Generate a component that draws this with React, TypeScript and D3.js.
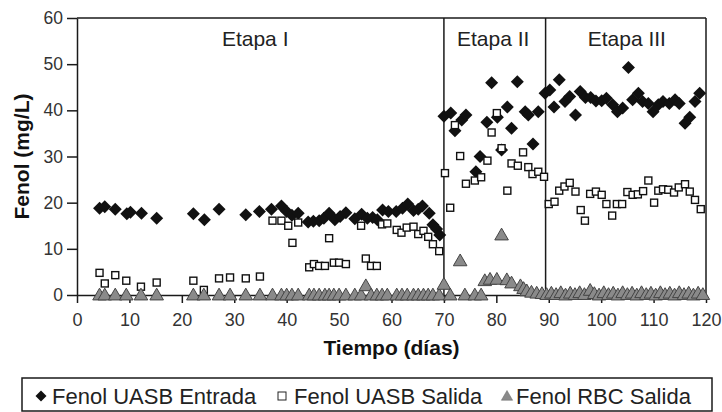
import React, { useEffect, useRef } from "react";
import * as d3 from "d3";

// Fenol UASB Entrada (rombos)
const entradaDia = [4.3, 5.3, 7.3, 9.5, 10.2, 12.3, 15.2, 22.2, 24.3, 27.1, 32.2, 34.8, 37.1, 39, 40, 41, 42.2, 44.1, 45.1, 46.2, 47.1, 48.1, 49.2, 50.2, 51.3, 53, 54.3, 55.4, 56.4, 57.3, 58.3, 59.4, 60.9, 62.1, 63.1, 64.2, 65.1, 65.9, 67.2, 67.9, 68.6, 69.2, 70, 71.3, 72.1, 73.4, 74.2, 76.1, 76.9, 78.2, 79.1, 80.2, 81, 82.1, 82.9, 84, 85.5, 86.1, 87, 88, 89.3, 90.2, 91, 92, 93.1, 94, 95.1, 96, 97, 98, 99, 100.1, 101, 102.2, 103.1, 104.1, 105.2, 106, 107.1, 107.9, 109, 109.9, 110.9, 111.8, 113, 114.1, 114.9, 116, 116.9, 117.9, 118.8];
const entradaVal = [18.8, 19.1, 18.6, 17.6, 17.9, 17.7, 16.6, 17.6, 16.3, 18.6, 17.4, 18.1, 18.6, 19.3, 18.1, 17.3, 17.7, 15.8, 16.0, 16.1, 16.6, 17.7, 16.3, 17.0, 17.8, 16.5, 17.5, 16.6, 16.8, 16.3, 18.4, 18.1, 18.1, 18.8, 19.7, 18.3, 18.6, 19.3, 17.7, 15.2, 14.3, 13.0, 38.7, 39.4, 35.6, 37.9, 39.0, 26.7, 30.0, 37.4, 46.0, 38.5, 31.4, 40.7, 36.1, 46.2, 39.7, 39.0, 32.7, 39.7, 43.7, 44.4, 40.7, 46.6, 41.9, 43.0, 39.0, 44.1, 42.8, 42.8, 42.0, 42.1, 42.6, 41.2, 39.7, 40.5, 49.3, 42.3, 43.7, 41.9, 41.5, 39.7, 41.2, 41.9, 41.5, 42.3, 41.5, 37.2, 38.5, 41.9, 43.7];

// Fenol UASB Salida (cuadrados)
const salidaDia = [4.3, 5.3, 7.3, 9.4, 12.2, 15.2, 22.2, 24.2, 27.1, 29.2, 32.2, 34.9, 37.3, 39, 40.3, 41.1, 42.2, 44.3, 45.2, 46.2, 47.3, 48.1, 49, 50, 51.3, 54.2, 55.1, 56.1, 57.2, 58.2, 59.2, 61, 61.9, 62.9, 64.2, 65.1, 66.1, 67, 67.9, 69.1, 70.2, 71.2, 72.1, 73.1, 74.2, 75.9, 77.1, 78.3, 79.1, 80.1, 81, 82.1, 82.9, 84.1, 85.1, 86.1, 86.9, 88, 89.1, 90, 91.1, 92, 93, 94, 95.1, 96.1, 96.9, 97.9, 99, 100.1, 101, 102.1, 103, 104, 105, 106, 107, 108, 109, 110.1, 110.9, 111.8, 112.8, 113.9, 114.8, 116, 116.9, 117.9, 119];
const salidaVal = [4.8, 2.5, 4.3, 3.1, 1.8, 2.7, 3.1, 1.1, 3.6, 3.8, 3.6, 4.0, 16.1, 16.1, 15.0, 11.3, 15.7, 6.0, 6.7, 6.3, 6.3, 12.3, 7.0, 7.0, 6.7, 15.0, 7.9, 6.3, 6.3, 15.3, 15.5, 14.1, 13.5, 14.6, 14.8, 13.2, 13.9, 12.6, 11.0, 9.5, 26.4, 18.9, 36.8, 30.1, 24.1, 24.8, 25.5, 29.1, 35.2, 39.4, 31.8, 22.6, 28.5, 28.0, 30.9, 27.7, 26.2, 26.7, 25.6, 19.7, 20.2, 22.6, 23.5, 24.3, 22.4, 18.4, 16.1, 21.9, 22.4, 21.7, 19.7, 17.2, 19.7, 19.7, 22.3, 21.7, 21.8, 22.5, 24.8, 20.0, 22.6, 22.9, 22.8, 22.2, 23.3, 24.0, 22.4, 20.6, 18.6];

// Fenol RBC Salida (triangulos)
const rbcDia = [4.3, 5.3, 7.3, 9.4, 12.2, 15.2, 22.2, 24.2, 27.1, 29.2, 32.2, 34.9, 37.3, 39, 40, 41, 42.2, 44.3, 45.2, 46.2, 47.3, 48.1, 49, 50, 51.3, 53, 54.2, 55.1, 56.1, 57.2, 58.2, 59.2, 61, 62, 63, 64.2, 65.1, 66.1, 67, 67.9, 69.1, 70, 71.2, 73.1, 74, 75.9, 77.1, 77.8, 78.8, 80.1, 81, 82, 82.9, 84.6, 85.2, 85.8, 86.7, 87.7, 88.7, 89.6, 90.5, 91.4, 92.3, 93.2, 94.1, 95, 95.9, 96.8, 97.9, 98.7, 99.6, 100.5, 101.4, 102.3, 103.2, 104.1, 105, 105.9, 106.8, 107.7, 108.6, 109.5, 110.4, 111.3, 112.2, 113.1, 114, 114.9, 115.8, 116.7, 117.6, 118.5, 119.4];
const rbcVal = [0, 0, 0, 0, 0, 0, 0, 0, 0, 0, 0, 0, 0, 0, 0, 0, 0, 0, 0, 0, 0, 0, 0, 0, 0, 0, 0, 2.0, 0, 0, 0, 0, 0, 0, 0, 0, 0, 0, 0, 0, 0, 2.3, 0, 7.4, 0, 0, 0, 3.1, 3.4, 3.4, 13.0, 3.3, 2.6, 2.0, 1.4, 0.9, 0.6, 0.4, 0.3, 0.1, 0.4, 0.1, 0.5, 0.0, 0.4, 0.1, 0.5, 0.1, 1.0, 0.3, 0.0, 0.5, 0.1, 0.4, 0.0, 0.5, 0.1, 0.4, 0.0, 0.5, 0.1, 0.4, 0.0, 0.5, 0.1, 0.4, 0.0, 0.5, 0.1, 0.4, 0.0, 0.4, 0.1];

const xTicks = [0, 10, 20, 30, 40, 50, 60, 70, 80, 90, 100, 110, 120];
const yTicks = [0, 10, 20, 30, 40, 50, 60];

const etapas = ["Etapa I", "Etapa II", "Etapa III"];
const etapaCentro = [34, 79.4, 104.9];
const etapaLimites = [70, 89.4];

const leyenda = ["Fenol UASB Entrada", "Fenol UASB Salida", "Fenol RBC Salida"];

const FONT = "'Liberation Sans', Arial, Helvetica, sans-serif";

export default function App() {
  const ref = useRef<SVGSVGElement>(null);

  useEffect(() => {
    const svg = d3.select(ref.current);
    svg.selectAll("*").remove();

    const W = 722, H = 412;
    const margin = { top: 18, right: 16, bottom: 117, left: 77 };

    const x = d3.scaleLinear().domain([0, 120]).range([margin.left, W - margin.right]);
    const y = d3.scaleLinear().domain([0, 60]).range([H - margin.bottom, margin.top]);

    const ink = "#1a1a1a";

    // box top / right
    svg.append("line")
      .attr("x1", x(0)).attr("x2", x(120))
      .attr("y1", y(60)).attr("y2", y(60))
      .attr("stroke", ink).attr("stroke-width", 1.5);
    svg.append("line")
      .attr("x1", x(120)).attr("x2", x(120))
      .attr("y1", y(60)).attr("y2", y(0))
      .attr("stroke", ink).attr("stroke-width", 1.5);

    // stage separators
    svg.selectAll(".etapa-line")
      .data(etapaLimites)
      .enter()
      .append("line")
      .attr("x1", (d) => x(d)).attr("x2", (d) => x(d))
      .attr("y1", y(60)).attr("y2", y(0))
      .attr("stroke", ink).attr("stroke-width", 1.5);

    svg.selectAll(".etapa-txt")
      .data(etapas)
      .enter()
      .append("text")
      .attr("x", (d, i) => x(etapaCentro[i]))
      .attr("y", 46)
      .attr("text-anchor", "middle")
      .attr("font-family", FONT)
      .attr("font-size", 21)
      .attr("fill", "#222")
      .text((d) => d);

    // axes
    const yAxis = svg.append("g")
      .attr("transform", `translate(${x(0)},0)`)
      .call(d3.axisLeft(y).tickValues(yTicks).tickSize(10).tickSizeOuter(0).tickPadding(4));
    const xAxis = svg.append("g")
      .attr("transform", `translate(0,${y(0)})`)
      .call(d3.axisBottom(x).tickValues(xTicks).tickSize(8).tickSizeOuter(0).tickPadding(10));

    [yAxis, xAxis].forEach((g) => {
      g.selectAll("path, line").attr("stroke", ink).attr("stroke-width", 1.5);
      g.selectAll("text").attr("font-family", FONT).attr("fill", "#333");
    });
    yAxis.selectAll("text").attr("font-size", 17.5);
    xAxis.selectAll("text").attr("font-size", 18);

    // axis titles
    svg.append("text")
      .attr("transform", `translate(29,${(y(0) + y(60)) / 2}) rotate(-90)`)
      .attr("text-anchor", "middle")
      .attr("font-family", FONT)
      .attr("font-weight", "bold")
      .attr("font-size", 21)
      .attr("fill", "#111")
      .text("Fenol (mg/L)");
    svg.append("text")
      .attr("x", (x(0) + x(120)) / 2)
      .attr("y", 355)
      .attr("text-anchor", "middle")
      .attr("font-family", FONT)
      .attr("font-weight", "bold")
      .attr("font-size", 21)
      .attr("fill", "#111")
      .text("Tiempo (días)");

    const diamond = (r: number) => `M0,${-r}L${r},0L0,${r}L${-r},0Z`;
    const tri = d3.symbol().type(d3.symbolTriangle).size(80);

    // series
    const entrada = entradaDia.map((d, i) => [d, entradaVal[i]]);
    const salida = salidaDia.map((d, i) => [d, salidaVal[i]]);
    const rbc = rbcDia.map((d, i) => [d, rbcVal[i]]);

    svg.append("g").selectAll("path")
      .data(entrada)
      .enter()
      .append("path")
      .attr("d", diamond(6.5))
      .attr("transform", (d) => `translate(${x(d[0])},${y(d[1])})`)
      .attr("fill", "#111");

    svg.append("g").selectAll("rect")
      .data(salida)
      .enter()
      .append("rect")
      .attr("x", (d) => x(d[0]) - 3.5)
      .attr("y", (d) => y(d[1]) - 3.5)
      .attr("width", 7)
      .attr("height", 7)
      .attr("fill", "#fff")
      .attr("stroke", "#111")
      .attr("stroke-width", 1.4);

    svg.append("g").selectAll("path")
      .data(rbc)
      .enter()
      .append("path")
      .attr("d", tri)
      .attr("transform", (d) => `translate(${x(d[0])},${y(d[1]) + 1})`)
      .attr("fill", "#8a8a8a")
      .attr("stroke", "#444")
      .attr("stroke-width", 1);

    // legend
    const lg = svg.append("g");
    lg.append("rect")
      .attr("x", 22).attr("y", 378)
      .attr("width", 690).attr("height", 33)
      .attr("fill", "#fff")
      .attr("stroke", ink).attr("stroke-width", 1.5);

    const legX = [52, 294, 516];
    const legMarkX = [41, 282, 507];
    lg.selectAll("text")
      .data(leyenda)
      .enter()
      .append("text")
      .attr("x", (d, i) => legX[i])
      .attr("y", 403.5)
      .attr("font-family", FONT)
      .attr("font-size", 22)
      .attr("fill", "#222")
      .text((d) => d);

    lg.append("path")
      .attr("d", diamond(5.5))
      .attr("transform", `translate(${legMarkX[0]},396)`)
      .attr("fill", "#111");
    lg.append("rect")
      .attr("x", legMarkX[1] - 4).attr("y", 392)
      .attr("width", 8).attr("height", 8)
      .attr("fill", "#fff").attr("stroke", "#222").attr("stroke-width", 1);
    lg.append("path")
      .attr("d", d3.symbol().type(d3.symbolTriangle).size(55))
      .attr("transform", `translate(${legMarkX[2]},397)`)
      .attr("fill", "#8a8a8a")
      .attr("stroke", "#666").attr("stroke-width", 0.5);
  }, []);

  return (
    <svg
      ref={ref}
      width={722}
      height={412}
      style={{ position: "absolute", left: 0, top: 0, background: "#fff" }}
    />
  );
}
